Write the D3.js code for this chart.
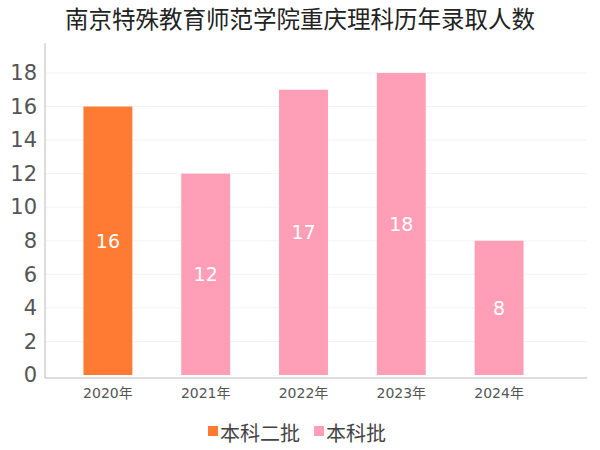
<!DOCTYPE html>
<html><head><meta charset="utf-8">
<script src="https://d3js.org/d3.v7.min.js"></script>
<style>body{margin:0;font-family:"DejaVu Sans","Noto Sans CJK SC",sans-serif;}</style>
</head><body>
<svg id="chart" width="600" height="450"></svg>
<script>
let years = ["2020年","2021年","2022年","2023年","2024年"];
let counts = [16,12,17,18,8];
let batches = ["本科二批","本科批","本科批","本科批","本科批"];
let legendNames = ["本科二批","本科批"];
let legendColors = ["#ff7b33","#ff9eb6"];

let svg = d3.select("#chart");
let font = "DejaVu Sans, Noto Sans CJK SC, sans-serif";
let color = d3.scaleOrdinal().domain(legendNames).range(legendColors);
let x = d3.scaleBand().domain(years).range([59,548]).paddingInner(0.5).paddingOuter(0.25);
let y = d3.scaleLinear().domain([0,20]).range([375,39.4]);

svg.append("text").attr("x",300).attr("y",28).attr("text-anchor","middle")
  .style("font-size","23.5px").style("font-family",font).attr("fill","#222")
  .text("南京特殊教育师范学院重庆理科历年录取人数");

// grid
[2,4,6,8,10,12,14,16,18].forEach(function(v){
  svg.append("line").attr("x1",45).attr("x2",587).attr("y1",y(v)).attr("y2",y(v))
    .attr("stroke","#f3f3f3");
});

let yAxis = svg.append("g").attr("transform","translate(45,0)")
  .call(d3.axisLeft(y).tickValues([0,2,4,6,8,10,12,14,16,18]).tickSize(0).tickPadding(8));
yAxis.select(".domain").remove();
yAxis.selectAll("text").style("font-size","21px").style("font-family",font).attr("fill","#555");
svg.append("line").attr("x1",45).attr("x2",45).attr("y1",43).attr("y2",378).attr("stroke","#bbb");

let xAxis = svg.append("g").attr("transform","translate(0,378)")
  .call(d3.axisBottom(x).tickSize(0).tickPadding(10));
xAxis.select(".domain").remove();
xAxis.selectAll("text").style("font-size","14px").style("font-family",font).attr("fill","#555");
svg.append("line").attr("x1",45).attr("x2",587).attr("y1",378).attr("y2",378).attr("stroke","#bbb");

years.forEach(function(d,i){
  svg.append("rect").attr("x",x(d)).attr("width",x.bandwidth())
    .attr("y",y(counts[i])).attr("height",y(0)-y(counts[i]))
    .attr("fill",color(batches[i]));
  svg.append("text").attr("x",x(d)+x.bandwidth()/2).attr("y",(y(counts[i])+y(0))/2+7)
    .attr("text-anchor","middle").attr("fill","#fff").style("font-size","19px")
    .style("font-family",font).text(counts[i]);
});

// legend
let lx = [208,314];
legendNames.forEach(function(n,i){
  svg.append("rect").attr("x",lx[i]).attr("y",426).attr("width",10).attr("height",10).attr("fill",legendColors[i]);
  svg.append("text").attr("x",lx[i]+12).attr("y",441).style("font-size","20px")
    .style("font-family",font).attr("fill","#444").text(n);
});
</script>
</body></html>
